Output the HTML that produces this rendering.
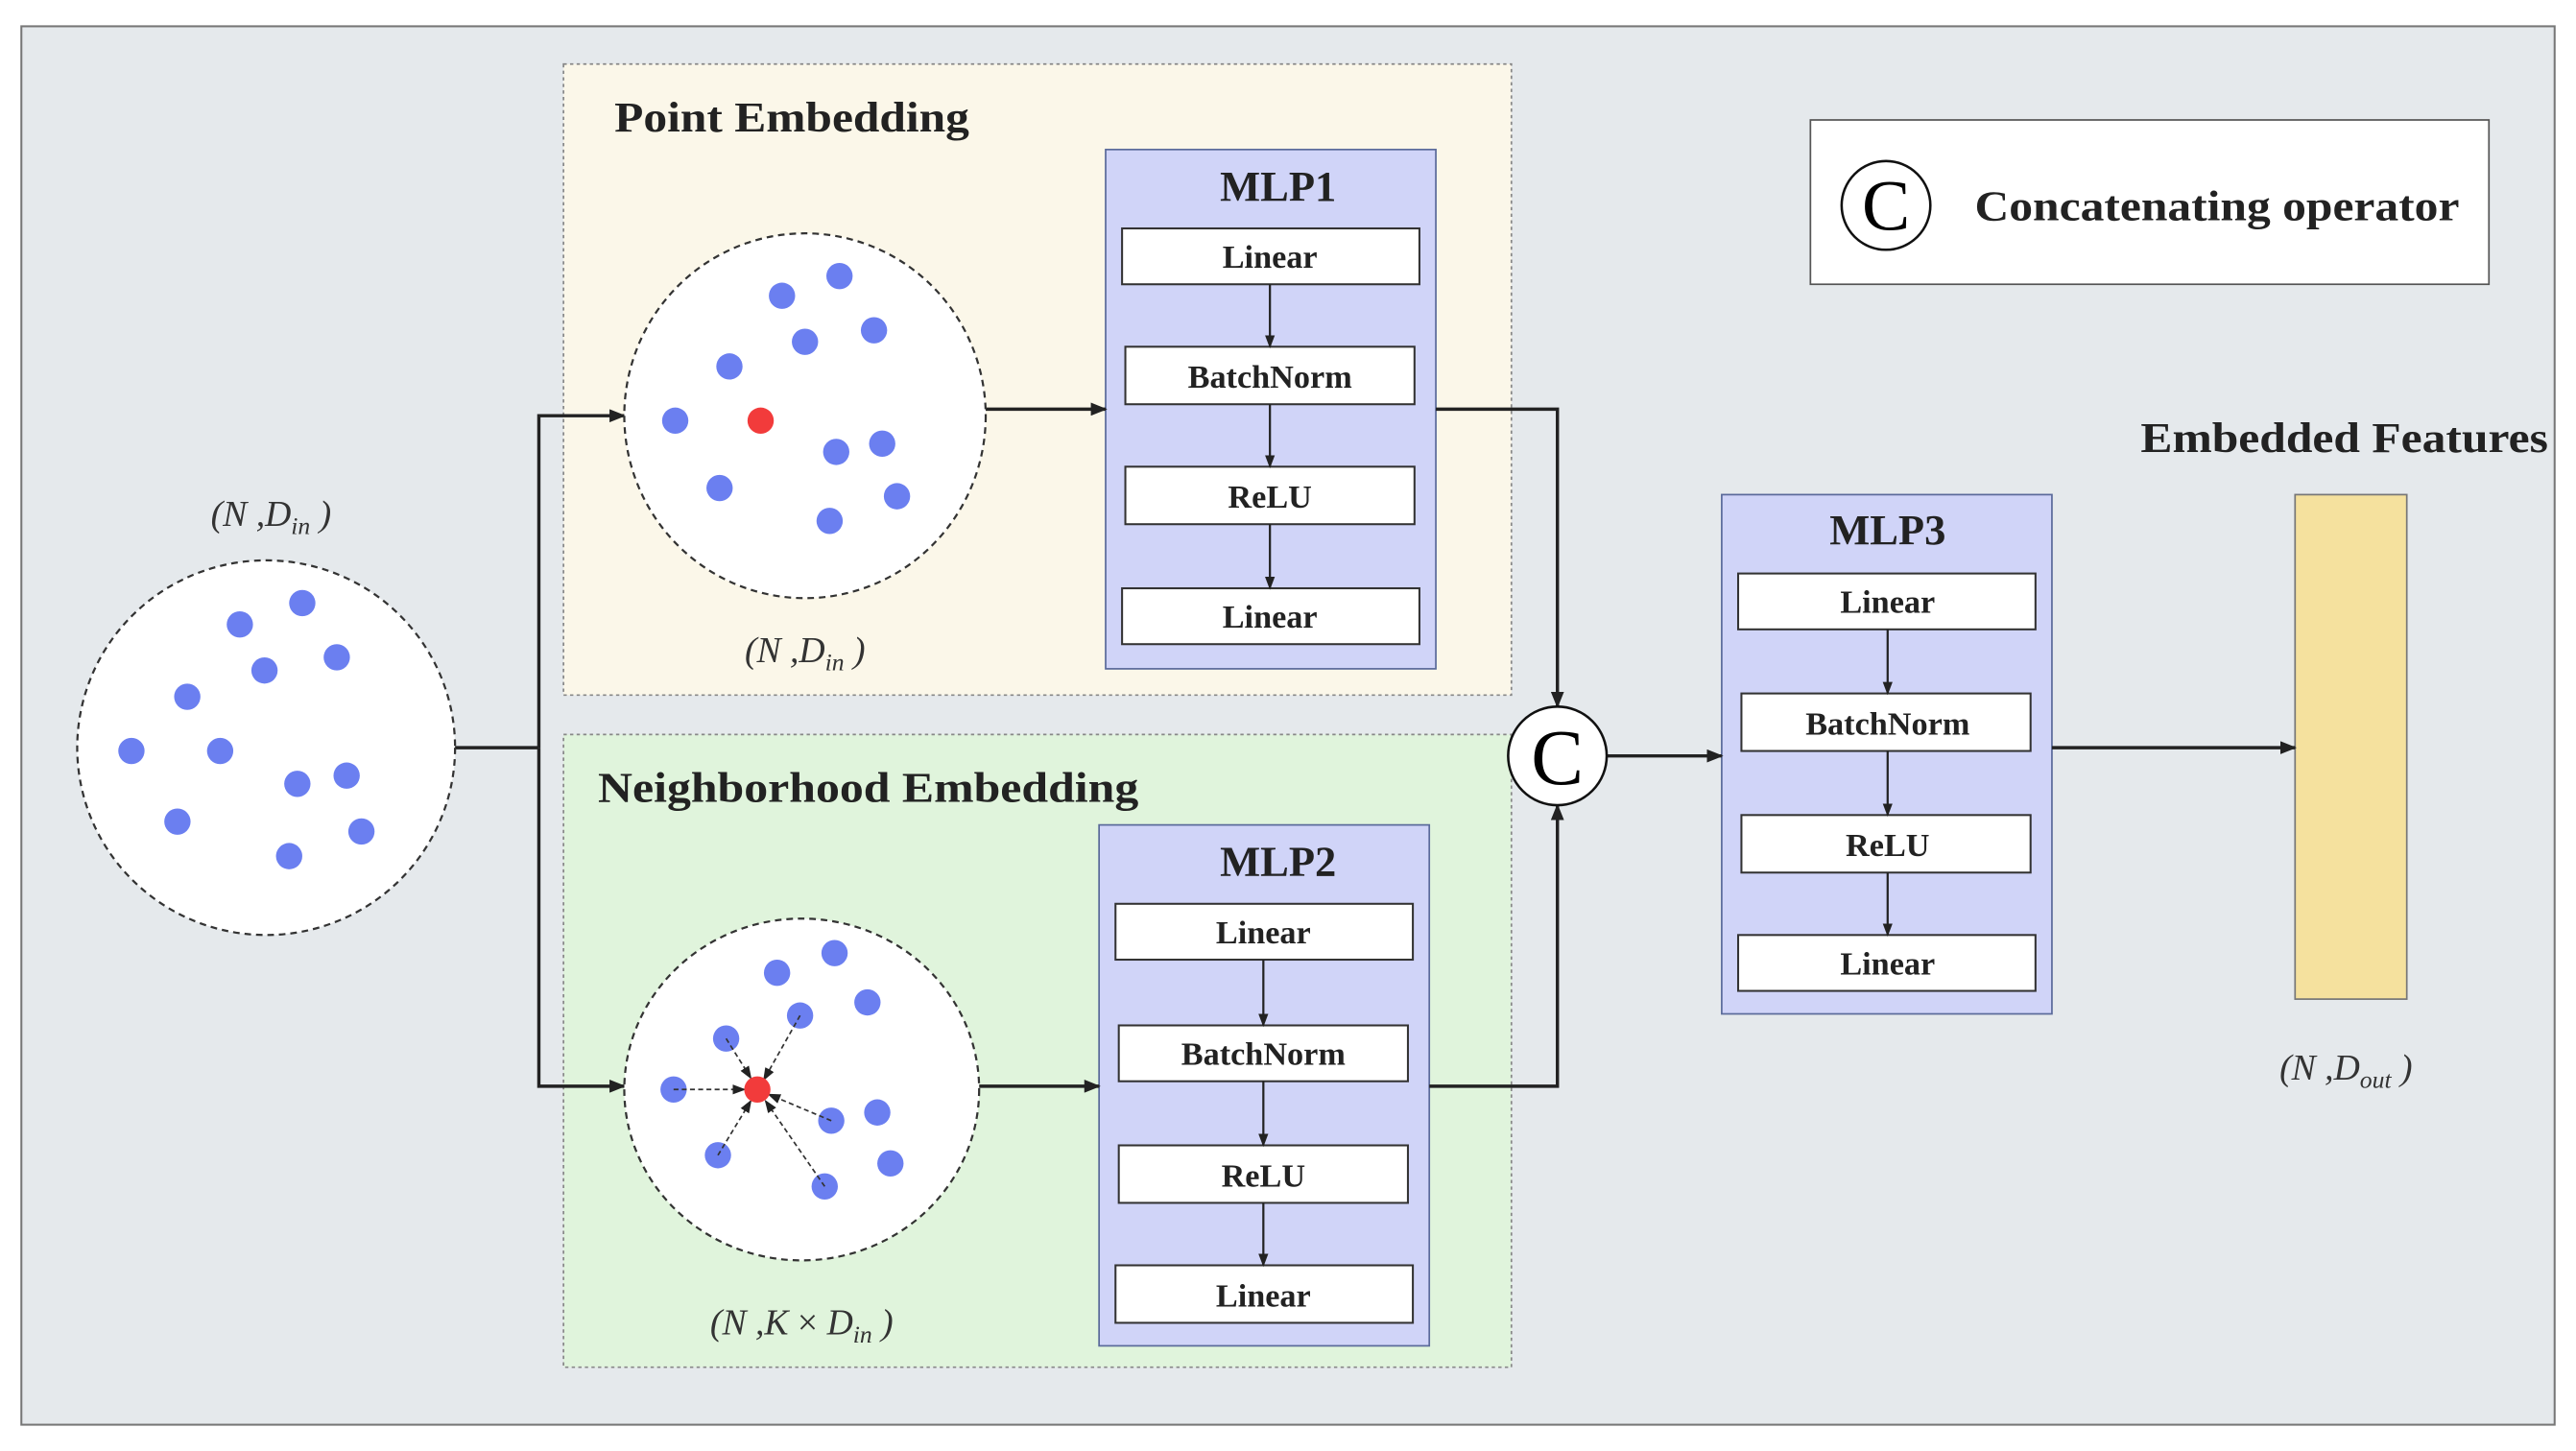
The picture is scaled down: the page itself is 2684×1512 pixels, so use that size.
<!DOCTYPE html>
<html><head><meta charset="utf-8"><style>
html,body{margin:0;padding:0;background:#fff;}
svg{display:block;}
text{font-family:"Liberation Serif",serif;}
.b{font-weight:bold;}
</style></head><body>
<svg width="2684" height="1512" viewBox="0 0 1568 883" preserveAspectRatio="none" xmlns="http://www.w3.org/2000/svg">
<defs>
<marker id="a" markerWidth="10" markerHeight="8" refX="9" refY="4" orient="auto" markerUnits="userSpaceOnUse"><path d="M0,0 L10,4 L0,8 Z" fill="#222"/></marker>
<marker id="s" markerWidth="8" markerHeight="6" refX="7" refY="3" orient="auto" markerUnits="userSpaceOnUse"><path d="M0,0 L8,3 L0,6 Z" fill="#222"/></marker>
</defs>
<rect x="0" y="0" width="1568" height="883" fill="#fff"/>
<rect x="13" y="16" width="1542" height="851" fill="#e5e9ec" stroke="#777" stroke-width="1.2"/>
<rect x="343" y="39" width="577" height="384" fill="#fbf7e9" stroke="#888" stroke-dasharray="2,2"/>
<rect x="343" y="447" width="577" height="385" fill="#e0f4dc" stroke="#888" stroke-dasharray="2,2"/>
<rect x="1102" y="73" width="413" height="100" fill="#fff" stroke="#555"/>
<circle cx="1148" cy="125" r="27" fill="#fff" stroke="#111" stroke-width="1.5"/>
<text x="1148" y="140" font-size="44" text-anchor="middle">C</text>
<text x="1202" y="134" font-size="26" class="b" fill="#222" textLength="295" lengthAdjust="spacingAndGlyphs">Concatenating operator</text>
<text x="374" y="80" font-size="26" class="b" fill="#222" textLength="216" lengthAdjust="spacingAndGlyphs">Point Embedding</text>
<text x="364" y="488" font-size="26" class="b" fill="#222" textLength="329" lengthAdjust="spacingAndGlyphs">Neighborhood Embedding</text>
<text x="1303" y="275" font-size="26" class="b" fill="#222" textLength="248" lengthAdjust="spacingAndGlyphs">Embedded Features</text>

<rect x="673" y="91" width="201" height="316" fill="#d0d4f8" stroke="#5a6a9a"/>
<text x="778" y="122" font-size="26" class="b" text-anchor="middle" fill="#222">MLP1</text>
<g fill="#fff" stroke="#333" stroke-width="1.2">
<rect x="683" y="139" width="181" height="34"/><rect x="685" y="211" width="176" height="35"/><rect x="685" y="284" width="176" height="35"/><rect x="683" y="358" width="181" height="34"/>
</g>
<rect x="669" y="502" width="201" height="317" fill="#d0d4f8" stroke="#5a6a9a"/>
<text x="778" y="533" font-size="26" class="b" text-anchor="middle" fill="#222">MLP2</text>
<g fill="#fff" stroke="#333" stroke-width="1.2">
<rect x="679" y="550" width="181" height="34"/><rect x="681" y="624" width="176" height="34"/><rect x="681" y="697" width="176" height="35"/><rect x="679" y="770" width="181" height="35"/>
</g>
<rect x="1048" y="301" width="201" height="316" fill="#d0d4f8" stroke="#5a6a9a"/>
<text x="1149" y="331" font-size="26" class="b" text-anchor="middle" fill="#222">MLP3</text>
<g fill="#fff" stroke="#333" stroke-width="1.2">
<rect x="1058" y="349" width="181" height="34"/><rect x="1060" y="422" width="176" height="35"/><rect x="1060" y="496" width="176" height="35"/><rect x="1058" y="569" width="181" height="34"/>
</g>
<g font-size="20" class="b" text-anchor="middle" fill="#222">
<text x="773" y="163">Linear</text><text x="773" y="236">BatchNorm</text><text x="773" y="309">ReLU</text><text x="773" y="382">Linear</text>
<text x="769" y="574">Linear</text><text x="769" y="648">BatchNorm</text><text x="769" y="722">ReLU</text><text x="769" y="795">Linear</text>
<text x="1149" y="373">Linear</text><text x="1149" y="447">BatchNorm</text><text x="1149" y="521">ReLU</text><text x="1149" y="593">Linear</text>
</g>
<g stroke="#222" stroke-width="1.3" marker-end="url(#s)">
<line x1="773" y1="173" x2="773" y2="211"/><line x1="773" y1="246" x2="773" y2="284"/><line x1="773" y1="319" x2="773" y2="358"/>
<line x1="769" y1="584" x2="769" y2="624"/><line x1="769" y1="658" x2="769" y2="697"/><line x1="769" y1="732" x2="769" y2="770"/>
<line x1="1149" y1="383" x2="1149" y2="422"/><line x1="1149" y1="457" x2="1149" y2="496"/><line x1="1149" y1="531" x2="1149" y2="569"/>
</g>
<rect x="1397" y="301" width="68" height="307" fill="#f5e19e" stroke="#777"/>

<g stroke="#222" stroke-width="2" fill="none">
<polyline points="276,455 328,455"/>
<polyline points="328,455 328,253 380,253" marker-end="url(#a)"/>
<polyline points="328,455 328,661 380,661" marker-end="url(#a)"/>
<polyline points="600,249 673,249" marker-end="url(#a)"/>
<polyline points="596,661 669,661" marker-end="url(#a)"/>
<polyline points="874,249 948,249 948,430" marker-end="url(#a)"/>
<polyline points="870,661 948,661 948,490" marker-end="url(#a)"/>
<polyline points="978,460 1048,460" marker-end="url(#a)"/>
<polyline points="1249,455 1397,455" marker-end="url(#a)"/>
</g>
<circle cx="948" cy="460" r="30" fill="#fff" stroke="#111" stroke-width="1.5"/>
<text x="948" y="477" font-size="48" text-anchor="middle">C</text>

<g fill="#fff" stroke="#333" stroke-width="1.3" stroke-dasharray="4,3">
<ellipse cx="162" cy="455" rx="115" ry="114"/>
<ellipse cx="490" cy="253" rx="110" ry="111"/>
<ellipse cx="488" cy="663" rx="108" ry="104"/>
</g>
<g fill="#6b7ff0">
<circle cx="146" cy="380" r="8"/><circle cx="184" cy="367" r="8"/><circle cx="161" cy="408" r="8"/><circle cx="205" cy="400" r="8"/><circle cx="114" cy="424" r="8"/><circle cx="80" cy="457" r="8"/><circle cx="134" cy="457" r="8"/><circle cx="181" cy="477" r="8"/><circle cx="211" cy="472" r="8"/><circle cx="108" cy="500" r="8"/><circle cx="176" cy="521" r="8"/><circle cx="220" cy="506" r="8"/>
<circle cx="476" cy="180" r="8"/><circle cx="511" cy="168" r="8"/><circle cx="532" cy="201" r="8"/><circle cx="490" cy="208" r="8"/><circle cx="444" cy="223" r="8"/><circle cx="411" cy="256" r="8"/><circle cx="509" cy="275" r="8"/><circle cx="537" cy="270" r="8"/><circle cx="438" cy="297" r="8"/><circle cx="546" cy="302" r="8"/><circle cx="505" cy="317" r="8"/>
<circle cx="473" cy="592" r="8"/><circle cx="508" cy="580" r="8"/><circle cx="487" cy="618" r="8"/><circle cx="528" cy="610" r="8"/><circle cx="442" cy="632" r="8"/><circle cx="410" cy="663" r="8"/><circle cx="506" cy="682" r="8"/><circle cx="534" cy="677" r="8"/><circle cx="437" cy="703" r="8"/><circle cx="542" cy="708" r="8"/><circle cx="502" cy="722" r="8"/>
</g>
<g stroke="#333" stroke-width="1" stroke-dasharray="3,2" marker-end="url(#s)">
<line x1="487" y1="618" x2="465" y2="657"/><line x1="442" y1="632" x2="457" y2="656"/><line x1="410" y1="663" x2="453" y2="663"/><line x1="506" y1="682" x2="468" y2="666"/><line x1="437" y1="703" x2="457" y2="670"/><line x1="502" y1="722" x2="466" y2="670"/>
</g>
<circle cx="463" cy="256" r="8" fill="#f23b3b"/>
<circle cx="461" cy="663" r="8" fill="#f23b3b"/>

<g font-size="22" font-style="italic" fill="#333" text-anchor="middle">
<text x="165" y="320">(N ,D<tspan font-size="15" dy="5">in</tspan><tspan dy="-5"> )</tspan></text>
<text x="490" y="403">(N ,D<tspan font-size="15" dy="5">in</tspan><tspan dy="-5"> )</tspan></text>
<text x="488" y="812">(N ,K <tspan font-style="normal">×</tspan> D<tspan font-size="15" dy="5">in</tspan><tspan dy="-5"> )</tspan></text>
<text x="1428" y="657">(N ,D<tspan font-size="15" dy="5">out</tspan><tspan dy="-5"> )</tspan></text>
</g>
</svg>
</body></html>
